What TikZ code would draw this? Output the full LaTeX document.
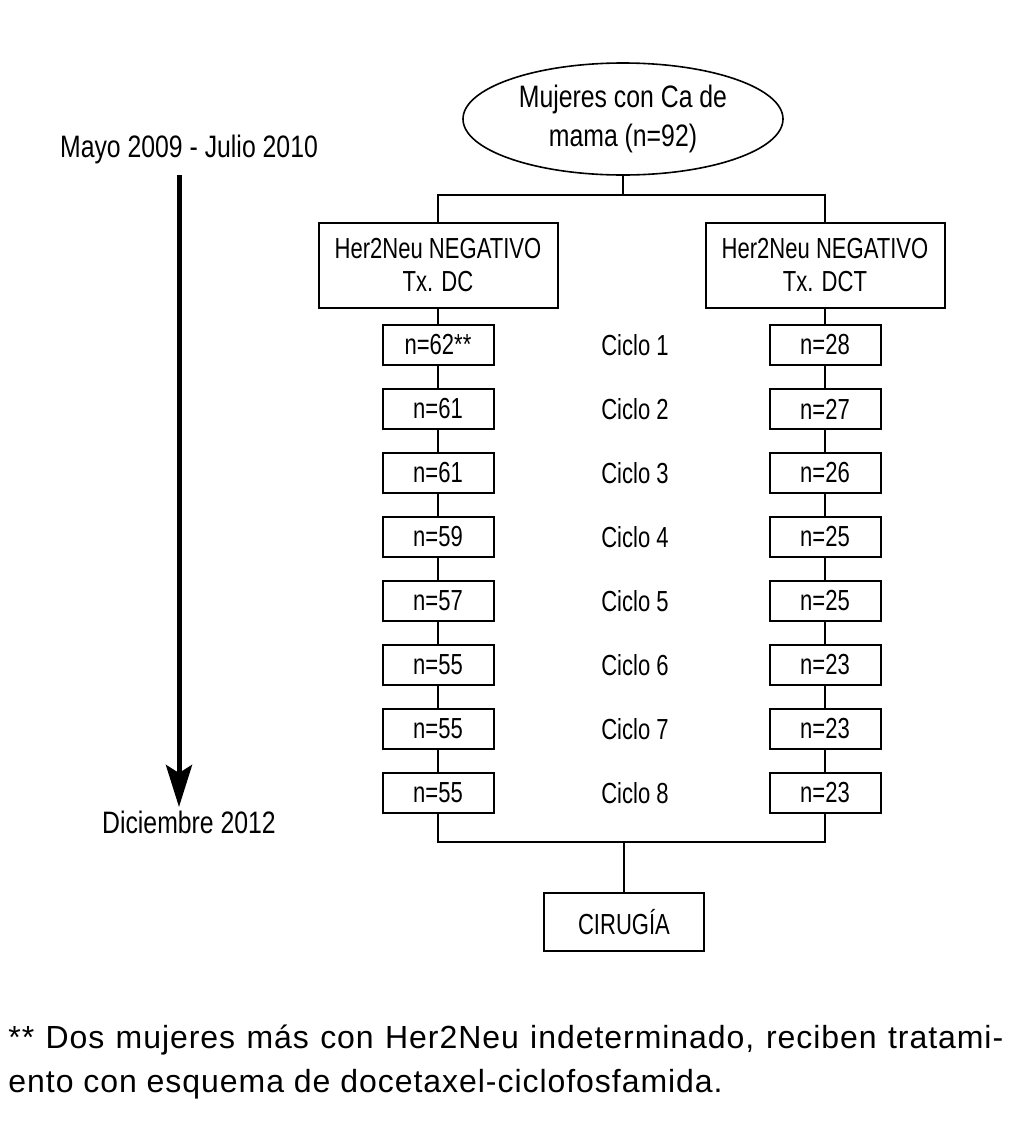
\documentclass[tikz,border=0pt]{standalone}
\usepackage{fontspec}
\setmainfont{Liberation Sans}
\newfontfamily\narrowfont{Liberation Sans}[FakeStretch=0.76]
\newfontfamily\wideNarrow{Liberation Sans}[FakeStretch=0.8]
\newfontfamily\notefont{Liberation Sans}[LetterSpace=3.0]
\usetikzlibrary{shapes.geometric,arrows.meta}

\begin{document}
\begin{tikzpicture}[x=0.5pt, y=-0.5pt,
	cell/.style={draw, line width=1pt, minimum width=55.5pt, minimum height=20pt, inner sep=0pt, font=\narrowfont\fontsize{14.5}{17}\selectfont},
	arm/.style={draw, line width=1pt, minimum width=119.5pt, minimum height=42.5pt, inner sep=0pt, align=center, font=\narrowfont\fontsize{14.5}{16.5}\selectfont},
	label/.style={font=\narrowfont\fontsize{14.5}{17}\selectfont},
	link/.style={line width=1pt}]
\useasboundingbox (0,0) rectangle (1029,1141);

% top of the chart
\node[ellipse, draw, line width=0.8pt, minimum width=160pt, minimum height=56pt, inner sep=0pt, align=center, font=\wideNarrow\fontsize{15.5}{19.5}\selectfont] (total) at (623,119) {Mujeres con Ca de\\mama (n=92)};
\node[arm] (dc) at (438,265) {Her2Neu NEGATIVO\\Tx. DC};
\node[arm] (dct) at (825,265) {Her2Neu NEGATIVO\\Tx. DCT};
\coordinate (split) at (623,195);
\draw[link] (total) -- (split);
\draw[link] (split) -| (dc);
\draw[link] (split) -| (dct);

% cycles
\foreach \i/\a/\b in {1/62**/28, 2/61/27, 3/61/26, 4/59/25, 5/57/25, 6/55/23, 7/55/23, 8/55/23}
{
	\node[cell] (dc\i) at (438, 281+64*\i) {n=\a};
	\node[cell] (dct\i) at (825, 281+64*\i) {n=\b};
	\node[label] (ciclo\i) at (635, 281+64*\i) {Ciclo \i};
}
\draw[link] (dc) -- (dc1);
\draw[link] (dct) -- (dct1);
\foreach \i [count=\j] in {2,...,8}
{
	\draw[link] (dc\j) -- (dc\i);
	\draw[link] (dct\j) -- (dct\i);
}

% surgery
\node[draw, line width=1pt, minimum width=80pt, minimum height=29pt, inner sep=0pt, font=\narrowfont\fontsize{14.5}{17}\selectfont] (cirugia) at (624,922) {CIRUGÍA};
\coordinate (join) at (624,842);
\draw[link] (dc8) |- (join) -| (dct8);
\draw[link] (join) -- (cirugia);

% time line
\node[anchor=base, font=\wideNarrow\fontsize{15.5}{18}\selectfont] (start) at (189,157) {Mayo 2009 - Julio 2010};
\node[anchor=base, font=\wideNarrow\fontsize{15.5}{18}\selectfont] (finish) at (189,833) {Diciembre 2012};
\coordinate (t0) at (179,175);
\coordinate (t1) at (179,807);
\draw[line width=2.5pt, -{Stealth[length=21pt, width=13pt, inset=4pt]}] (t0) -- (t1);

% note
\node[anchor=base west, inner sep=0pt, font=\notefont\fontsize{16}{22}\selectfont] (note1) at (8,1048) {\makebox[497.5pt][s]{** Dos mujeres más con Her2Neu indeterminado, reciben tratami-}};
\node[anchor=base west, inner sep=0pt, font=\notefont\fontsize{16}{22}\selectfont] (note2) at (8,1092) {ento con esquema de docetaxel-ciclofosfamida.};
\end{tikzpicture}
\end{document}
